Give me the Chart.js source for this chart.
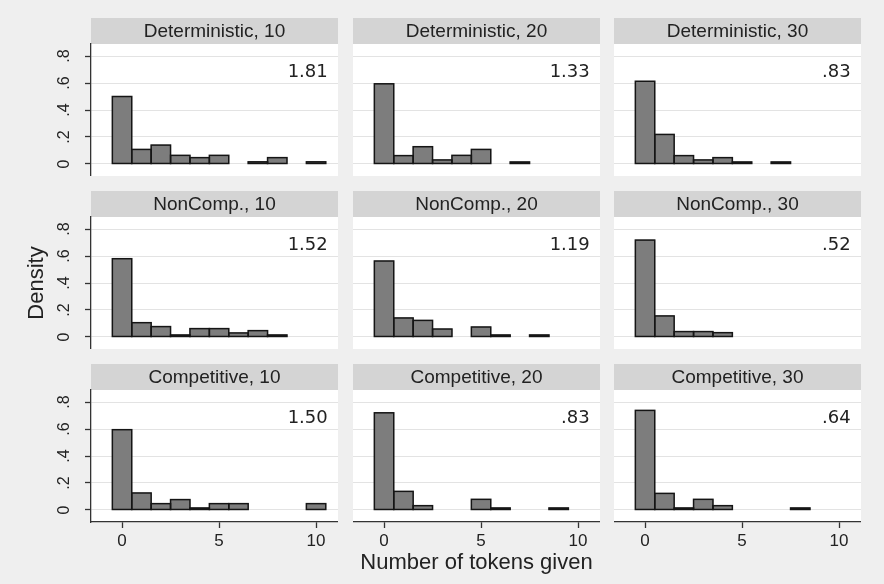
<!DOCTYPE html>
<html><head><meta charset="utf-8">
<script src="https://cdn.jsdelivr.net/npm/chart.js@4"></script>
<style>
html,body{margin:0;padding:0;background:#efefef;}
#wrap{position:relative;width:884px;height:584px;overflow:hidden;background:#efefef;}
canvas{position:absolute;}
</style></head><body><div id="wrap"></div>
<script>
// ---- data ----
const bins = [0,1,2,3,4,5,6,7,8,9,10];
const panelTitles = ['Deterministic, 10','Deterministic, 20','Deterministic, 30',
                     'NonComp., 10','NonComp., 20','NonComp., 30',
                     'Competitive, 10','Competitive, 20','Competitive, 30'];
const det10  = [0.500,0.108,0.140,0.064,0.047,0.064,0,0.016,0.047,0,0.016];
const det20  = [0.594,0.062,0.128,0.030,0.064,0.108,0,0.015,0,0,0];
const det30  = [0.613,0.219,0.062,0.030,0.047,0.015,0,0.015,0,0,0];
const nc10   = [0.580,0.106,0.077,0.015,0.062,0.062,0.030,0.047,0.015,0,0];
const nc20   = [0.563,0.141,0.123,0.059,0,0.074,0.015,0,0.015,0,0];
const nc30   = [0.718,0.156,0.040,0.040,0.032,0,0,0,0,0,0];
const comp10 = [0.595,0.126,0.047,0.077,0.015,0.047,0.047,0,0,0,0.047];
const comp20 = [0.720,0.138,0.032,0,0,0.079,0.015,0,0,0.015,0];
const comp30 = [0.738,0.123,0.015,0.079,0.032,0,0,0,0.015,0,0];
const meanLabels = ['1.81','1.33','.83','1.52','1.19','.52','1.50','.83','.64'];
const xTickValues = [0,5,10];
const xTickLabels = ['0','5','10'];
const yTickValues = [0,0.2,0.4,0.6,0.8];
const yTickLabels = ['0','.2','.4','.6','.8'];
const xTitle = 'Number of tokens given';
const yTitle = 'Density';

// ---- layout ----
const COL_LEFT = [91, 353, 614];
const ROW_TOP = [18, 191, 364];
const PLOT_W = 247, PLOT_H = 132, STRIP_H = 26;
const BW = 1.5;

Chart.defaults.font.family = '"Liberation Sans", Arial, sans-serif';

const panelPlugin = {
  id: 'panel',
  beforeDraw(chart, args, o) {
    const {ctx, chartArea: a} = chart;
    ctx.save();
    ctx.fillStyle = '#ffffff';
    ctx.fillRect(a.left, a.top, a.right - a.left, a.bottom - a.top);
    ctx.fillStyle = '#d4d4d4';
    ctx.fillRect(a.left, a.top - STRIP_H, a.right - a.left, STRIP_H);
    ctx.fillStyle = '#222';
    ctx.font = '19px "Liberation Sans", Arial, sans-serif';
    ctx.textAlign = 'center';
    ctx.textBaseline = 'middle';
    ctx.fillText(o.title, (a.left + a.right) / 2, a.top - STRIP_H / 2 + 1);
    ctx.restore();
  },
  afterDatasetsDraw(chart, args, o) {
    const {ctx} = chart;
    const xs = chart.scales.x, ys = chart.scales.y;
    ctx.save();
    // bar outlines, stroked on the bar edges
    ctx.strokeStyle = '#151515';
    ctx.lineWidth = BW;
    chart.getDatasetMeta(0).data.forEach(el => {
      const p = el.getProps(['x', 'y', 'base', 'width'], true);
      ctx.strokeRect(p.x - p.width / 2, p.y, p.width, p.base - p.y);
    });
    ctx.fillStyle = '#222';
    ctx.font = '18px "DejaVu Sans", sans-serif';
    ctx.textAlign = 'right';
    ctx.textBaseline = 'middle';
    ctx.fillText(o.note, xs.getPixelForValue(10.6), ys.getPixelForValue(0.68));
    ctx.restore();
  }
};

const panelVals = [det10, det20, det30, nc10, nc20, nc30, comp10, comp20, comp30];
const wrap = document.getElementById('wrap');

panelVals.forEach((vals, k) => {
  const r = Math.floor(k / 3), c = k % 3;
  const L = c === 0 ? 91 : 0;
  const B = r === 2 ? 62 : 0;
  const w = L + PLOT_W, h = STRIP_H + PLOT_H + B;
  const cv = document.createElement('canvas');
  cv.width = w; cv.height = h;
  cv.style.left = (COL_LEFT[c] - L) + 'px';
  cv.style.top = ROW_TOP[r] + 'px';
  cv.style.width = w + 'px'; cv.style.height = h + 'px';
  wrap.appendChild(cv);

  new Chart(cv, {
    type: 'bar',
    data: {
      datasets: [{
        data: bins.filter(b => vals[b] > 0).map(b => ({x: b, y: vals[b]})),
        backgroundColor: '#7d7d7d',
        borderWidth: 0,
        barPercentage: 1,
        categoryPercentage: 1,
        clip: false
      }]
    },
    options: {
      responsive: false,
      animation: false,
      devicePixelRatio: 1,
      layout: {padding: {top: STRIP_H, left: 0, right: 0, bottom: 0}},
      plugins: {
        legend: {display: false},
        tooltip: {enabled: false},
        panel: {title: panelTitles[k], note: meanLabels[k]}
      },
      scales: {
        x: {
          type: 'linear', min: -1.6, max: 11.13, offset: false,
          display: r === 2,
          afterBuildTicks: s => { s.ticks = xTickValues.map(v => ({value: v})); },
          afterFit: s => { s.height = B; s.paddingLeft = 0; s.paddingRight = 0; s.paddingTop = 0; s.paddingBottom = 0; },
          grid: {offset: false, drawOnChartArea: false, drawTicks: true, tickLength: 6, tickColor: '#333', tickWidth: 1.3},
          border: {display: true, color: '#333', width: 1.3},
          ticks: {callback: (v, i) => xTickLabels[i], font: {size: 17}, color: '#222', padding: 3, maxRotation: 0, autoSkip: false},
          title: {display: r === 2 && c === 1, text: xTitle, font: {size: 22}, color: '#222', padding: {top: 0, bottom: 8}}
        },
        y: {
          type: 'linear', min: -0.089, max: 0.889,
          afterBuildTicks: s => { s.ticks = yTickValues.map(v => ({value: v})); },
          afterFit: s => { s.width = L; s.paddingLeft = 0; s.paddingRight = 0; s.paddingTop = 0; s.paddingBottom = 0; },
          grid: {color: '#e3e3e3', lineWidth: 1, drawTicks: c === 0, tickLength: 6, tickColor: '#333', tickWidth: 1.3},
          border: {display: c === 0, color: '#333', width: 1.3},
          ticks: {display: c === 0, callback: (v, i) => yTickLabels[i], minRotation: 90, maxRotation: 90, crossAlign: 'center', padding: 14, autoSkip: false, font: {size: 16}, color: '#222'},
          title: {display: r === 1 && c === 0, text: yTitle, font: {size: 22}, color: '#222', padding: {top: 24, bottom: 0}}
        }
      }
    },
    plugins: [panelPlugin]
  });
});
</script>
</body></html>
